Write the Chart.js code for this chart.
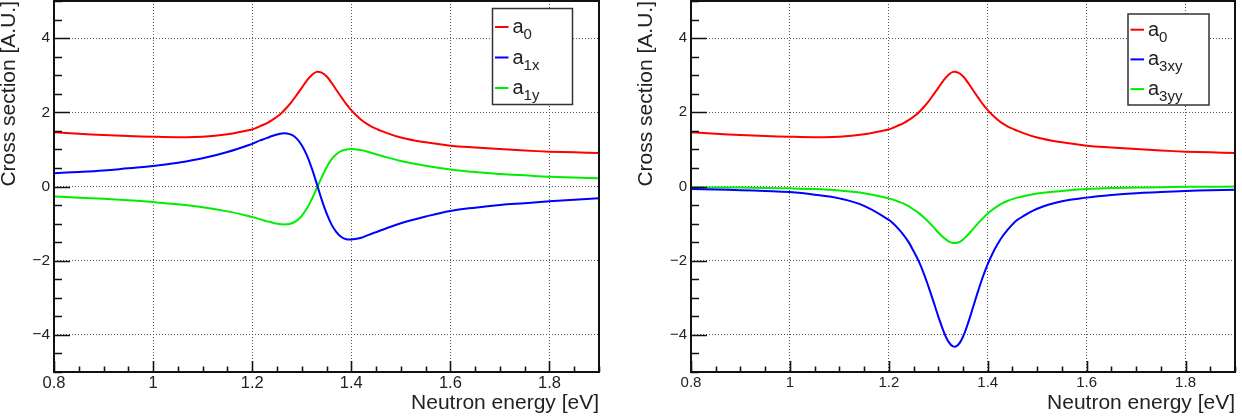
<!DOCTYPE html>
<html><head><meta charset="utf-8">
<script src="https://cdn.jsdelivr.net/npm/chart.js@4.4.1/dist/chart.umd.min.js"></script>
<style>
html,body{margin:0;padding:0;background:#fff;}
body{width:1242px;height:416px;position:relative;overflow:hidden;}
.panel{position:absolute;top:0;width:621px;height:416px;}
canvas{display:block;}
</style></head><body>
<div class="panel" style="left:0"><canvas id="c1" width="621" height="416"></canvas></div>
<div class="panel" style="left:621px"><canvas id="c2" width="621" height="416"></canvas></div>
<script>
// ---- data ----
const energy = [0.8,0.85,0.9,0.95,1.0,1.05,1.1,1.15,1.2,1.21,1.22,1.23,1.24,1.25,1.26,1.27,1.28,1.29,1.3,1.31,1.32,1.33,1.34,1.35,1.36,1.37,1.38,1.39,1.4,1.41,1.42,1.43,1.44,1.45,1.46,1.5,1.55,1.6,1.65,1.7,1.75,1.8,1.85,1.9];
const a0   = [1.46,1.42,1.39,1.36,1.34,1.33,1.34,1.41,1.54,1.59,1.65,1.71,1.79,1.88,1.99,2.13,2.29,2.47,2.66,2.85,3.0,3.09,3.07,2.97,2.8,2.6,2.41,2.22,2.06,1.92,1.8,1.7,1.62,1.56,1.5,1.32,1.19,1.1,1.05,1.01,0.97,0.94,0.92,0.9];
const a1x  = [0.36,0.39,0.43,0.49,0.55,0.64,0.76,0.93,1.15,1.21,1.26,1.31,1.36,1.40,1.43,1.43,1.39,1.29,1.11,0.85,0.5,0.09,-0.34,-0.72,-1.02,-1.23,-1.36,-1.42,-1.43,-1.41,-1.38,-1.33,-1.28,-1.23,-1.18,-0.99,-0.81,-0.66,-0.57,-0.5,-0.45,-0.4,-0.36,-0.32];
const a1y  = [-0.27,-0.3,-0.33,-0.37,-0.42,-0.48,-0.56,-0.67,-0.82,-0.86,-0.9,-0.94,-0.97,-1.0,-1.02,-1.02,-0.99,-0.92,-0.79,-0.6,-0.35,-0.06,0.24,0.51,0.73,0.87,0.96,1.0,1.01,1.0,0.98,0.95,0.91,0.87,0.83,0.69,0.56,0.46,0.39,0.34,0.3,0.26,0.24,0.22];
const a3xy = [-0.07,-0.08,-0.1,-0.12,-0.15,-0.22,-0.32,-0.52,-0.9,-1.01,-1.15,-1.31,-1.5,-1.74,-2.0,-2.32,-2.69,-3.09,-3.5,-3.88,-4.17,-4.31,-4.27,-4.05,-3.69,-3.27,-2.84,-2.44,-2.09,-1.8,-1.55,-1.34,-1.17,-1.02,-0.9,-0.6,-0.4,-0.3,-0.23,-0.18,-0.15,-0.12,-0.1,-0.09];
const a3yy = [-0.02,-0.03,-0.03,-0.04,-0.05,-0.07,-0.11,-0.18,-0.32,-0.36,-0.41,-0.46,-0.53,-0.62,-0.71,-0.82,-0.95,-1.09,-1.24,-1.37,-1.47,-1.52,-1.51,-1.43,-1.3,-1.15,-1.0,-0.86,-0.73,-0.62,-0.53,-0.45,-0.39,-0.34,-0.3,-0.19,-0.12,-0.07,-0.04,-0.03,-0.02,-0.01,-0.01,0.0];

const leftNames  = ['a|0','a|1x','a|1y'];
const rightNames = ['a|0','a|3xy','a|3yy'];
const seriesColors = ['#ff0000','#0000ff','#00ee00'];

const xTickValues = [0.8,1.0,1.2,1.4,1.6,1.8];
const xTickLabels = ['0.8','1','1.2','1.4','1.6','1.8'];
const yTickValues = [-4,-2,0,2,4];
const yTickLabels = ['\u22124','\u22122','0','2','4'];
const xTitle = 'Neutron energy [eV]';
const yTitle = 'Cross section [A.U.]';

const FONT = "'Liberation Sans', Arial, Helvetica, sans-serif";
Chart.defaults.font.family = FONT;

function pts(vals){ return energy.map((e,i)=>({x:e,y:vals[i]})); }

const framePlugin = {
  id:'rootFrame',
  afterDatasetsDraw(chart){
    const {ctx, chartArea:a, scales:{x,y}} = chart;
    ctx.save();
    ctx.strokeStyle = '#111';
    ctx.lineWidth = 1.6;
    ctx.beginPath();
    for (let v = -5; v <= 5.0001; v += 0.5) {
      const py = Math.round(y.getPixelForValue(v)) + 0.5;
      const major = Math.abs(v/2 - Math.round(v/2)) < 1e-6;
      const len = major ? 16 : 8;
      ctx.moveTo(a.left, py); ctx.lineTo(a.left + len, py);
    }
    for (let k = 0; k <= 22; k++) {
      const v = 0.8 + k*0.05;
      const px = Math.round(x.getPixelForValue(v)) + 0.5;
      const major = k % 4 === 0;
      const len = major ? 11 : 5.5;
      ctx.moveTo(px, a.bottom); ctx.lineTo(px, a.bottom - len);
    }
    ctx.stroke();
    ctx.lineWidth = 2;
    ctx.strokeRect(a.left, a.top, a.right - a.left, a.bottom - a.top);
    ctx.restore();
  }
};

const legendPlugin = {
  id:'rootLegend',
  afterDraw(chart, args, o){
    const ctx = chart.ctx;
    ctx.save();
    ctx.fillStyle = '#fff';
    ctx.fillRect(o.x, o.y, o.w, o.h);
    ctx.strokeStyle = '#333';
    ctx.lineWidth = 1.5;
    ctx.strokeRect(o.x, o.y, o.w, o.h);
    chart.data.datasets.forEach((ds, i) => {
      const yb = o.baseY + i*o.step;
      ctx.strokeStyle = ds.borderColor;
      ctx.lineWidth = 2;
      ctx.beginPath();
      ctx.moveTo(o.lx0, yb - 6); ctx.lineTo(o.lx1, yb - 6);
      ctx.stroke();
      const [main, sub] = ds.label.split('|');
      ctx.fillStyle = '#222';
      ctx.textBaseline = 'alphabetic';
      ctx.textAlign = 'left';
      ctx.font = '20px ' + FONT;
      ctx.fillText(main, o.tx, yb);
      const w = ctx.measureText(main).width;
      ctx.font = '15px ' + FONT;
      ctx.fillText(sub, o.tx + w, yb + 6);
    });
    ctx.restore();
  }
};

function makeChart(id, names, series, o){
  const datasets = series.map((vals, i) => ({
    label: names[i], data: pts(vals), borderColor: seriesColors[i], borderWidth: 2,
    pointRadius: 0, fill: false, tension: 0.4
  }));
  return new Chart(document.getElementById(id), {
    type: 'line',
    data: { datasets },
    plugins: [framePlugin, legendPlugin],
    options: {
      responsive: false, animation: false, devicePixelRatio: 1,
      layout: { padding: { left: 0, top: 1, right: o.padRight, bottom: 0 } },
      plugins: { legend: { display: false }, tooltip: { enabled: false }, rootLegend: o.legend },
      scales: {
        x: {
          type: 'linear', min: 0.8, max: 1.9,
          afterBuildTicks: s => { s.ticks = xTickValues.map(v => ({ value: v })); },
          afterFit: s => { s.height = 44; s.paddingLeft = 0; s.paddingRight = 0; },
          ticks: { callback: (v, i) => xTickLabels[i], font: { size: o.xTickSize }, color: '#222', padding: 2, maxRotation: 0, autoSkip: false },
          grid: { color: '#555', lineWidth: 1, drawTicks: false, borderDash: [1, 2] },
          border: { display: false, dash: [1, 2] },
          title: { display: true, text: xTitle, align: 'end', color: '#222', font: { size: 21, lineHeight: '18px' }, padding: { top: 0, bottom: 4 } }
        },
        y: {
          type: 'linear', min: -5, max: 5,
          afterBuildTicks: s => { s.ticks = yTickValues.map(v => ({ value: v })); },
          afterFit: s => { s.width = o.yAxisWidth; s.paddingTop = 0; s.paddingBottom = 0; },
          ticks: { callback: (v, i) => yTickLabels[i], font: { size: o.yTickSize }, color: '#222', padding: 4, autoSkip: false },
          grid: { color: '#555', lineWidth: 1, drawTicks: false, borderDash: [1, 2] },
          border: { display: false, dash: [1, 2] },
          title: { display: true, text: yTitle, align: 'end', color: '#222', font: { size: 21, lineHeight: '18px' }, padding: { top: o.yTitlePad, bottom: 0 } }
        }
      }
    }
  });
}

makeChart('c1', leftNames, [a0, a1x, a1y], {
  padRight: 22, yAxisWidth: 54, xTickSize: 16.5, yTickSize: 15.5, yTitlePad: 0,
  legend: { x: 492.5, y: 8.5, w: 80, h: 96, lx0: 495, lx1: 508.5, tx: 512.5, baseY: 33, step: 30.5 }
});
makeChart('c2', rightNames, [a0, a3xy, a3yy], {
  padRight: 7, yAxisWidth: 70, xTickSize: 15, yTickSize: 15, yTitlePad: 16,
  legend: { x: 507, y: 14, w: 81, h: 91, lx0: 509.5, lx1: 523, tx: 527, baseY: 35.7, step: 29.7 }
});
</script>
</body></html>
